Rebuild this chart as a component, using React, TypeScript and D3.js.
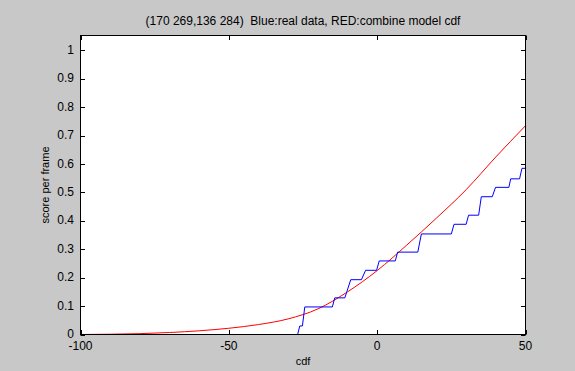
import React from "react";
import * as d3 from "d3";

// axis ranges and tick labels
const X_DOMAIN: [number, number] = [-100, 50];
const Y_DOMAIN: [number, number] = [0, 1.0526];
const X_TICKS = [-100, -50, 0, 50];
const Y_TICKS = [0, 0.1, 0.2, 0.3, 0.4, 0.5, 0.6, 0.7, 0.8, 0.9, 1];

// combined model cdf (red)
const MODEL_X = [-100, -90, -80, -70, -60, -50, -40, -30, -20, -10, 0, 10, 20, 30, 40, 50];
const MODEL_Y = [0, 0.001, 0.003, 0.007, 0.013, 0.022, 0.035, 0.055, 0.09, 0.15, 0.225, 0.315, 0.41, 0.51, 0.625, 0.735];

// empirical cdf of real data (blue)
const REAL_X = [-80, -26.8, -26.1, -25.2, -24.4, -15.1, -14.3, -10.9, -8.9, -5.3, -3.9, -0.2, 0.7, 6.1, 6.9, 13.7, 14.9, 25, 25.9, 30, 30.8, 34.2, 35.1, 38.8, 39.9, 44.4, 45, 48, 48.8, 50];
const REAL_Y = [0, 0, 0.03, 0.03, 0.097, 0.097, 0.129, 0.129, 0.193, 0.193, 0.226, 0.226, 0.259, 0.259, 0.29, 0.29, 0.354, 0.354, 0.388, 0.388, 0.42, 0.42, 0.485, 0.485, 0.518, 0.518, 0.548, 0.548, 0.585, 0.585];

const W = 575;
const H = 371;
const box = { left: 80.5, top: 35.5, right: 525.5, bottom: 334.5 };
const FONT = "Arial, 'Liberation Sans', sans-serif";

export default function App() {
  const x = d3.scaleLinear().domain(X_DOMAIN).range([box.left, box.right]);
  const y = d3.scaleLinear().domain(Y_DOMAIN).range([box.bottom, box.top]);

  const modelPath = d3
    .line<[number, number]>()
    .x((d) => x(d[0]))
    .y((d) => y(d[1]))
    .curve(d3.curveMonotoneX)(MODEL_X.map((v, i) => [v, MODEL_Y[i]]));
  const realPath = d3
    .line<[number, number]>()
    .x((d) => x(d[0]))
    .y((d) => y(d[1]))(REAL_X.map((v, i) => [v, REAL_Y[i]]));

  const tick = 4.5;

  return (
    <svg
      width={W}
      height={H}
      style={{ position: "absolute", left: 0, top: 0, background: "#c8c8c8" }}
      fontFamily={FONT}
    >
      <rect x={0} y={0} width={W} height={H} fill="#c8c8c8" />
      <rect
        x={box.left}
        y={box.top}
        width={box.right - box.left}
        height={box.bottom - box.top}
        fill="#ffffff"
      />

      <path d={modelPath || ""} fill="none" stroke="#ff0000" strokeWidth={1} />
      <path d={realPath || ""} fill="none" stroke="#0000ff" strokeWidth={1} />

      {/* frame */}
      <rect
        x={box.left}
        y={box.top}
        width={box.right - box.left}
        height={box.bottom - box.top}
        fill="none"
        stroke="#000"
        strokeWidth={1}
      />

      {/* x ticks, inward on bottom and top */}
      {X_TICKS.map((t) => (
        <g key={"x" + t}>
          <line x1={Math.round(x(t)) + 0.5} x2={Math.round(x(t)) + 0.5} y1={box.bottom} y2={box.bottom - tick} stroke="#000" />
          <line x1={Math.round(x(t)) + 0.5} x2={Math.round(x(t)) + 0.5} y1={box.top} y2={box.top + tick} stroke="#000" />
          <text x={x(t)} y={349.5} textAnchor="middle" fontSize={12} fill="#000">
            {t}
          </text>
        </g>
      ))}

      {/* y ticks, inward on left and right */}
      {Y_TICKS.map((t) => (
        <g key={"y" + t}>
          <line x1={box.left} x2={box.left + tick} y1={Math.round(y(t)) + 0.5} y2={Math.round(y(t)) + 0.5} stroke="#000" />
          <line x1={box.right} x2={box.right - tick} y1={Math.round(y(t)) + 0.5} y2={Math.round(y(t)) + 0.5} stroke="#000" />
          <text x={74} y={y(t) + 3.5} textAnchor="end" fontSize={12} fill="#000">
            {t}
          </text>
        </g>
      ))}

      <text
        x={(box.left + box.right) / 2}
        y={25}
        textAnchor="middle"
        fontSize={12}
        fill="#000"
        style={{ whiteSpace: "pre" }}
      >
        {"(170 269,136 284)  Blue:real data, RED:combine model cdf"}
      </text>
      <text x={(box.left + box.right) / 2} y={364.5} textAnchor="middle" fontSize={11} fill="#000">
        cdf
      </text>
      <text
        transform={`translate(49, ${(box.top + box.bottom) / 2}) rotate(-90)`}
        textAnchor="middle"
        fontSize={11}
        fill="#000"
      >
        score per frame
      </text>
    </svg>
  );
}
